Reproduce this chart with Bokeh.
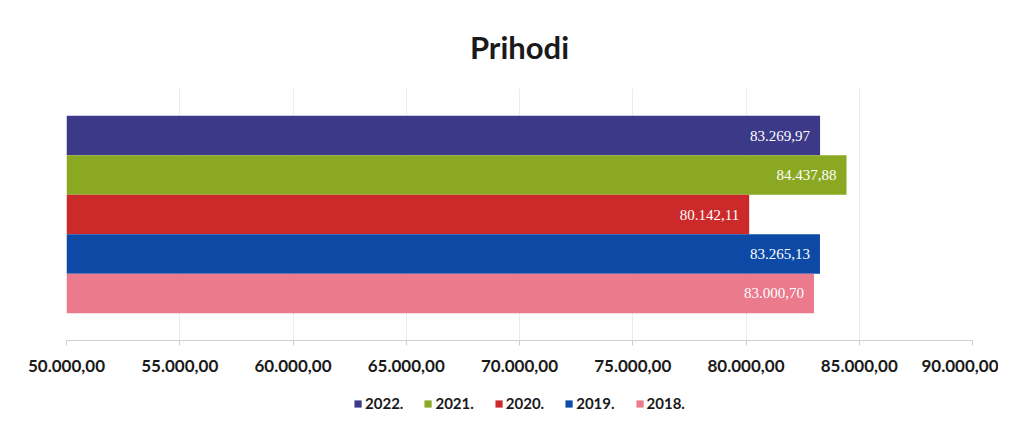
from bokeh.plotting import figure
from bokeh.layouts import column
from bokeh.models import Range1d, FixedTicker, Legend, LegendItem
from bokeh.core.properties import value
from bokeh.embed import file_html
from bokeh.resources import INLINE

years = ["2022.", "2021.", "2020.", "2019.", "2018."]
values = [83269.97, 84437.88, 80142.11, 83265.13, 83000.70]
value_labels = ["83.269,97", "84.437,88", "80.142,11", "83.265,13", "83.000,70"]
colors = ["#3c3a88", "#8aa822", "#cc2a2a", "#0c4aa6", "#ea7a8c"]
ticks = [50000, 55000, 60000, 65000, 70000, 75000, 80000, 85000, 90000]
tick_labels = ["50.000,00", "55.000,00", "60.000,00", "65.000,00", "70.000,00",
               "75.000,00", "80.000,00", "85.000,00", "90.000,00"]

n = len(years)
pos = [n - 1 - i for i in range(n)]  # 2022 at top

p = figure(width=998, height=380, output_backend="svg", toolbar_location=None,
           x_range=Range1d(50000, 90000), y_range=Range1d(-1.19, 5.19),
           min_border_left=66, min_border_right=26, min_border_top=88, min_border_bottom=40,
           title="Prihodi")
p.title.align = "center"
p.title.text_font = "Lato"
p.title.text_font_size = "31px"
p.title.text_font_style = "bold"
p.title.text_color = "#1a1a1a"
p.title.standoff = 45

for i in range(n):
    p.hbar(y=[pos[i]], right=[values[i]], left=50000, height=1.0,
           fill_color=colors[i], line_color=None)

p.text(x=values, y=pos, text=value_labels, x_offset=-10, text_align="right",
       text_baseline="middle", text_color="white", text_font=value("Liberation Serif"),
       text_font_size="15px")

p.xaxis.ticker = FixedTicker(ticks=ticks)
p.xaxis.major_label_overrides = {t: l for t, l in zip(ticks, tick_labels)}
p.xaxis.major_label_text_font = "Lato"
p.xaxis.major_label_text_font_style = "bold"
p.xaxis.major_label_text_font_size = "17px"
p.xaxis.major_label_text_color = "#1a1a1a"
p.xaxis.axis_line_color = "#d0d0d0"
p.xaxis.major_tick_line_color = "#d0d0d0"
p.xaxis.major_tick_in = 0
p.xaxis.major_tick_out = 5
p.xaxis.minor_tick_line_color = None
p.xaxis.major_label_standoff = 14
p.yaxis.visible = False
p.ygrid.grid_line_color = None
p.xgrid.grid_line_color = "#ececec"
p.outline_line_color = None

# legend strip
lg = figure(width=998, height=32, output_backend="svg", toolbar_location=None,
            x_range=Range1d(0, 1), y_range=Range1d(0, 1),
            min_border=0, min_border_left=66, min_border_right=26)
lg.axis.visible = False
lg.grid.grid_line_color = None
lg.outline_line_color = None
items = []
for i in range(n):
    r = lg.quad(left=[5], right=[6], bottom=[5], top=[6], fill_color=colors[i], line_color=None)
    items.append(LegendItem(label=years[i], renderers=[r]))
legend = Legend(items=items, orientation="horizontal", location="bottom_center",
                label_text_font="Lato", label_text_font_style="bold",
                label_text_font_size="15px", label_text_color="#1a1a1a",
                glyph_width=9, glyph_height=9, spacing=20, label_standoff=3,
                border_line_color=None, background_fill_alpha=0, padding=0, margin=0)
lg.add_layout(legend, "center")

layout = column(p, lg, spacing=0)
open("out.html", "w").write(file_html(layout, INLINE))
